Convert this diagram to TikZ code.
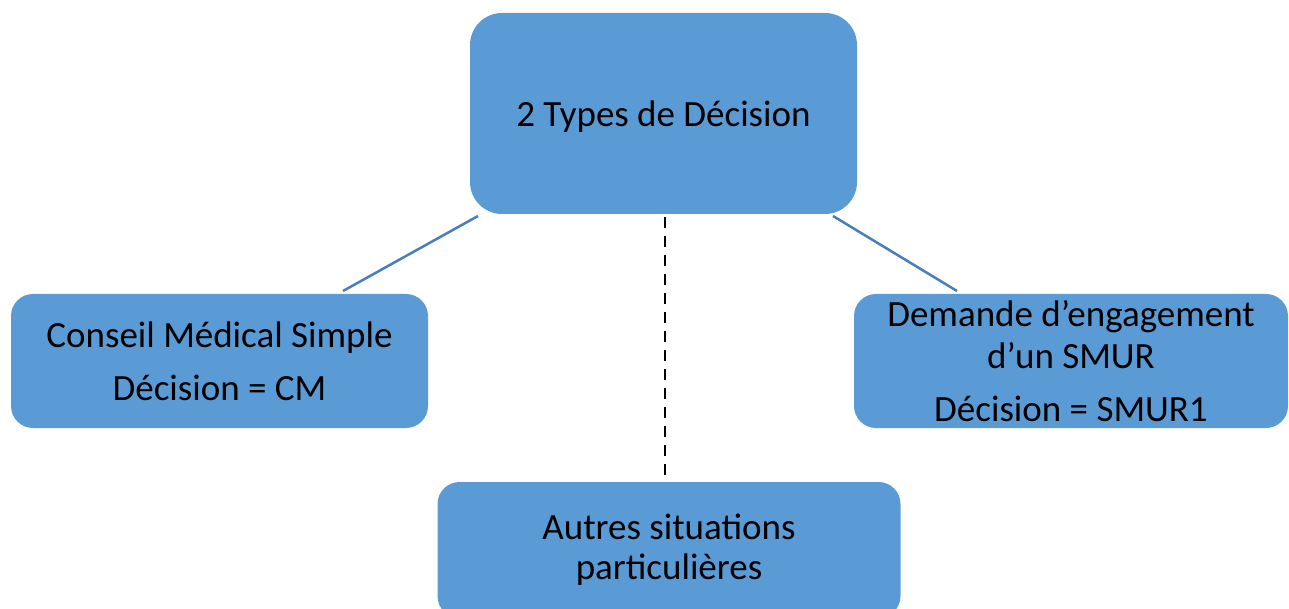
\documentclass[tikz,border=0pt]{standalone}
\usepackage{fontspec}
\setmainfont{Carlito}
\definecolor{boxfill}{HTML}{5B9BD5}
\definecolor{linkblue}{HTML}{4A7EBB}
\begin{document}
\begin{tikzpicture}[x=1pt,y=-1pt,
  box/.style={draw=none,fill=boxfill,rounded corners=#1,align=center,inner sep=0pt,
    font=\fontsize{37}{45}\selectfont},
  box/.default=22pt,
  link/.style={draw=linkblue,line width=2.5pt},
  dashlink/.style={draw=black,line width=2.5pt,dash pattern=on 11pt off 8pt}]
\useasboundingbox (0,0) rectangle (1289,609);
\node[box=32pt,minimum width=387pt,minimum height=201pt,text depth=-6pt] (top) at (663.5,113.5) {2 Types de Décision};
\node[box,minimum width=417pt,minimum height=134pt] (left) at (219.5,361) {Conseil Médical Simple\\[8pt]Décision = CM};
\node[box,minimum width=434pt,minimum height=134pt] (right) at (1071,361) {Demande d’engagement\\[-3pt]d’un SMUR\\[8pt]Décision = SMUR1};
\node[box,minimum width=463pt,minimum height=136pt] (bottom) at (669,550) {Autres situations\\[-5pt]particulières};
\coordinate (l1) at (478,216);
\coordinate (l2) at (343,291);
\coordinate (r1) at (833,216);
\coordinate (r2) at (957,291);
\coordinate (d1) at (665,217);
\coordinate (d2) at (665,480);
\draw[link] (l1) -- (l2);
\draw[link] (r1) -- (r2);
\draw[dashlink] (d1) -- (d2);
\end{tikzpicture}
\end{document}
